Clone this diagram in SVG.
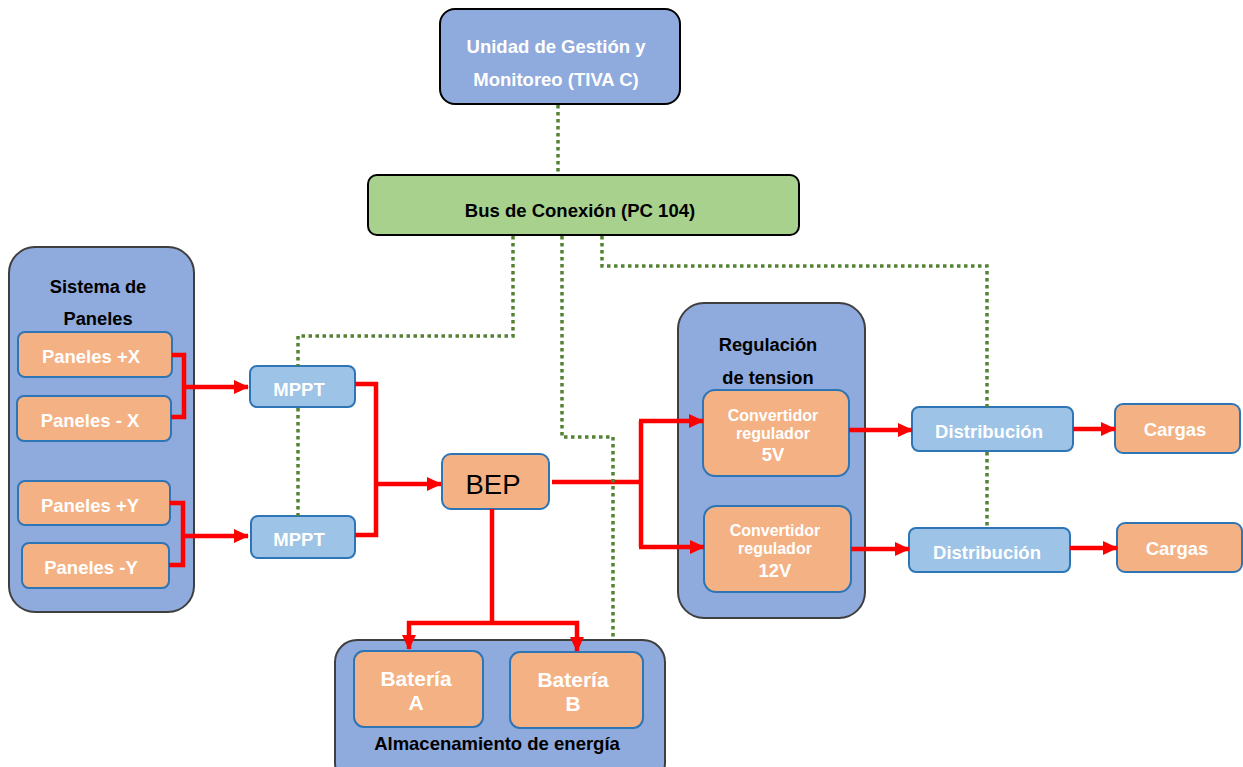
<svg xmlns="http://www.w3.org/2000/svg" width="1243" height="767" viewBox="0 0 1243 767">
  <style>
    .t { font-family: "Liberation Sans", Arial, sans-serif; font-weight: bold; text-anchor: middle; }
    .w { fill: #ffffff; }
    .k { fill: #000000; }
    .group { fill: #8faadc; stroke: #3f3f3f; stroke-width: 2; }
    .ctrl { fill: #8faadc; stroke: #000000; stroke-width: 2; }
    .bus { fill: #a9d18e; stroke: #000000; stroke-width: 2; }
    .org { fill: #f4b183; stroke: #2e75b6; stroke-width: 2; }
    .lb { fill: #9dc3e6; stroke: #2e75b6; stroke-width: 2; }
    .pw { fill: none; stroke: #ff0000; stroke-width: 4.5; }
    .sig { fill: none; stroke: #548235; stroke-width: 3.5; stroke-dasharray: 3.5 3.5; }
  </style>
  <defs>
    <marker id="arrow" markerUnits="userSpaceOnUse" markerWidth="15" markerHeight="14" refX="14" refY="7" orient="auto">
      <path d="M0,0 L15,7 L0,14 Z" fill="#ff0000"/>
    </marker>
  </defs>
  <rect width="1243" height="767" fill="#ffffff"/>

  <!-- container groups -->
  <g id="sistema-paneles">
    <rect class="group" x="9" y="247" width="185" height="365" rx="26"/>
    <text class="t k" x="98" y="293" font-size="18.3">Sistema de</text>
    <text class="t k" x="98" y="325" font-size="18.3">Paneles</text>
  </g>
  <g id="regulacion">
    <rect class="group" x="678" y="303" width="187" height="315" rx="26"/>
    <text class="t k" x="768" y="351" font-size="18.3">Regulación</text>
    <text class="t k" x="768" y="384" font-size="18.3">de tension</text>
  </g>
  <g id="almacenamiento">
    <rect class="group" x="335" y="640" width="330" height="145" rx="22"/>
    <text class="t k" x="497" y="750" font-size="18.5">Almacenamiento de energía</text>
  </g>

  <!-- control and bus -->
  <g id="unidad-gestion">
    <rect class="ctrl" x="440" y="9" width="240" height="95" rx="15"/>
    <text class="t w" x="556" y="53" font-size="18.5">Unidad de Gestión y</text>
    <text class="t w" x="556" y="86" font-size="18.5">Monitoreo (TIVA C)</text>
  </g>
  <g id="bus-conexion">
    <rect class="bus" x="368" y="175" width="431" height="60" rx="9"/>
    <text class="t k" x="580" y="217" font-size="18.5">Bus de Conexión (PC 104)</text>
  </g>

  <!-- panels -->
  <g id="paneles-px">
    <rect class="org" x="18" y="332" width="154" height="45" rx="7"/>
    <text class="t w" x="91" y="363" font-size="18.5">Paneles +X</text>
  </g>
  <g id="paneles-mx">
    <rect class="org" x="17" y="396" width="154" height="45" rx="7"/>
    <text class="t w" x="90" y="427" font-size="18.5">Paneles - X</text>
  </g>
  <g id="paneles-py">
    <rect class="org" x="18" y="481" width="152" height="44" rx="7"/>
    <text class="t w" x="90" y="512" font-size="18.5">Paneles +Y</text>
  </g>
  <g id="paneles-my">
    <rect class="org" x="22" y="543" width="147" height="45" rx="7"/>
    <text class="t w" x="91" y="574" font-size="18.5">Paneles -Y</text>
  </g>

  <!-- MPPT -->
  <g id="mppt-1">
    <rect class="lb" x="250" y="366" width="105" height="41" rx="7"/>
    <text class="t w" x="299" y="396" font-size="18.5">MPPT</text>
  </g>
  <g id="mppt-2">
    <rect class="lb" x="251" y="516" width="104" height="42" rx="7"/>
    <text class="t w" x="299" y="546" font-size="18.5">MPPT</text>
  </g>

  <!-- BEP -->
  <g id="bep">
    <rect class="org" x="442" y="454" width="107" height="55" rx="9"/>
    <text x="493" y="494" font-family="'Liberation Sans', Arial, sans-serif" font-size="27.5" text-anchor="middle" fill="#000000">BEP</text>
  </g>

  <!-- batteries -->
  <g id="bateria-a">
    <rect class="org" x="354" y="651" width="129" height="76" rx="10"/>
    <text class="t w" x="416" y="686" font-size="21">Batería</text>
    <text class="t w" x="416" y="710" font-size="21">A</text>
  </g>
  <g id="bateria-b">
    <rect class="org" x="510" y="652" width="133" height="76" rx="10"/>
    <text class="t w" x="573" y="687" font-size="21">Batería</text>
    <text class="t w" x="573" y="711" font-size="21">B</text>
  </g>

  <!-- regulators -->
  <g id="conv-5v">
    <rect class="org" x="703" y="390" width="146" height="86" rx="12"/>
    <text class="t w" x="773" y="421" font-size="16">Convertidor</text>
    <text class="t w" x="773" y="439" font-size="16">regulador</text>
    <text class="t w" x="773" y="461" font-size="18.5">5V</text>
  </g>
  <g id="conv-12v">
    <rect class="org" x="704" y="506" width="147" height="86" rx="12"/>
    <text class="t w" x="775" y="536" font-size="16">Convertidor</text>
    <text class="t w" x="775" y="554" font-size="16">regulador</text>
    <text class="t w" x="775" y="577" font-size="18.5">12V</text>
  </g>

  <!-- distribution -->
  <g id="distribucion-1">
    <rect class="lb" x="912" y="407" width="161" height="44" rx="7"/>
    <text class="t w" x="989" y="438" font-size="18.5">Distribución</text>
  </g>
  <g id="distribucion-2">
    <rect class="lb" x="909" y="528" width="161" height="44" rx="7"/>
    <text class="t w" x="987" y="559" font-size="18.5">Distribución</text>
  </g>

  <!-- loads -->
  <g id="cargas-1">
    <rect class="org" x="1115" y="404" width="125" height="49" rx="8"/>
    <text class="t w" x="1175" y="436" font-size="18.5">Cargas</text>
  </g>
  <g id="cargas-2">
    <rect class="org" x="1117" y="523" width="125" height="49" rx="8"/>
    <text class="t w" x="1177" y="555" font-size="18.5">Cargas</text>
  </g>

  <!-- connectors -->
  <g id="connectors">
    <!-- power paths -->
    <path class="pw" d="M172,355 H184 V417 H171"/>
    <path class="pw" d="M184,387 H248" marker-end="url(#arrow)"/>
    <path class="pw" d="M170,503 H183 V565 H169"/>
    <path class="pw" d="M183,536 H248" marker-end="url(#arrow)"/>
    <path class="pw" d="M355,384 H376 V535 H355"/>
    <path class="pw" d="M376,484 H441" marker-end="url(#arrow)"/>
    <path class="pw" d="M552,482 H641"/>
    <path class="pw" d="M641,421 V547"/>
    <path class="pw" d="M639,421 H703" marker-end="url(#arrow)"/>
    <path class="pw" d="M639,547 H704" marker-end="url(#arrow)"/>
    <path class="pw" d="M492,509 V623"/>
    <path class="pw" d="M407,623 H579"/>
    <path class="pw" d="M409,621 V649" marker-end="url(#arrow)"/>
    <path class="pw" d="M577,621 V651" marker-end="url(#arrow)"/>
    <path class="pw" d="M849,430 H912" marker-end="url(#arrow)"/>
    <path class="pw" d="M851,549 H909" marker-end="url(#arrow)"/>
    <path class="pw" d="M1073,429 H1115" marker-end="url(#arrow)"/>
    <path class="pw" d="M1070,548 H1117" marker-end="url(#arrow)"/>
    <!-- signal bus links -->
    <path class="sig" d="M558,105 V175"/>
    <path class="sig" d="M513,236 V336 H298 V366"/>
    <path class="sig" d="M298,408 V516"/>
    <path class="sig" d="M562,236 V437 H613 V640"/>
    <path class="sig" d="M602,236 V266 H987 V407"/>
    <path class="sig" d="M987,452 V528"/>
  </g>
</svg>
